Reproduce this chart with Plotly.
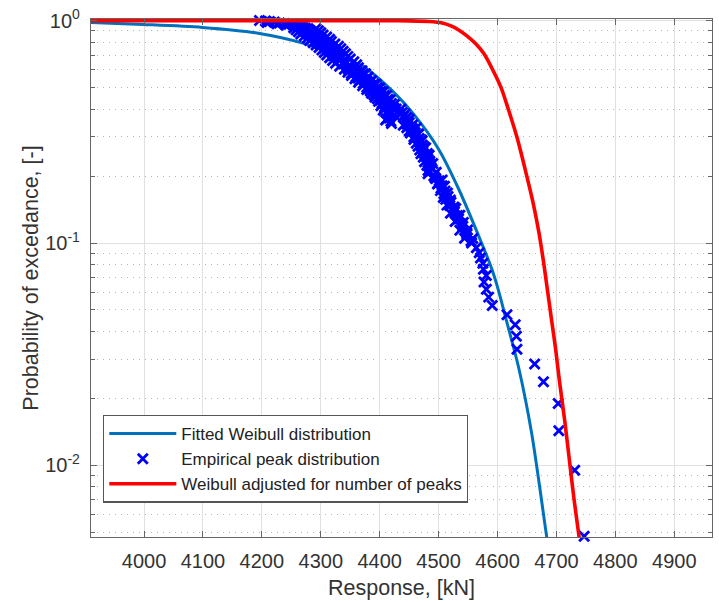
import plotly.graph_objects as go

# Fitted Weibull exceedance curve
fitted_x = [3910, 3998, 4099, 4196, 4268, 4319, 4370, 4421, 4462, 4500, 4534,
            4563, 4590, 4602, 4614, 4636, 4658, 4683, 4688]
fitted_y = [0.9806, 0.9607, 0.9314, 0.8758, 0.7941, 0.7089, 0.6266, 0.4844,
            0.3669, 0.2639, 0.1749, 0.1158, 0.0767, 0.0606, 0.0459, 0.0274,
            0.0139, 0.00486, 0.00396]

# Weibull adjusted for the number of peaks
adjusted_x = [3910, 4433, 4484, 4506, 4521, 4534, 4548, 4563, 4577, 4590, 4606,
              4619, 4633, 4648, 4660, 4670, 4678, 4685, 4692, 4699, 4705, 4714,
              4722, 4730, 4738, 4743]
adjusted_y = [1.0, 1.0, 0.9908, 0.9756, 0.9460, 0.9078, 0.8535, 0.7861, 0.7089,
              0.6139, 0.4996, 0.3943, 0.2986, 0.2084, 0.1530, 0.1123, 0.0825,
              0.0606, 0.0445, 0.0327, 0.0240, 0.0159, 0.01053, 0.00698, 0.00486,
              0.00376]

# Empirical peak distribution (response, exceedance probability)
peak_x = [4196, 4206, 4213, 4221, 4209, 4230, 4238, 4226, 4246, 4253, 4241,
          4260, 4257, 4265, 4270, 4274, 4269, 4277, 4272, 4280, 4286, 4279,
          4289, 4294, 4286, 4297, 4301, 4292, 4304, 4308, 4299, 4311, 4314,
          4306, 4318, 4321, 4314, 4324, 4328, 4321, 4331, 4335, 4330, 4340,
          4343, 4338, 4348, 4352, 4346, 4357, 4360, 4355, 4365, 4369, 4363,
          4375, 4379, 4374, 4384, 4387, 4382, 4394, 4397, 4392, 4402, 4406,
          4401, 4411, 4412, 4409, 4428, 4419, 4434, 4441, 4412, 4419, 4446,
          4453, 4456, 4460, 4463, 4467, 4470, 4472, 4475, 4473, 4479, 4482,
          4484, 4487, 4485, 4492, 4501, 4499, 4506, 4504, 4511, 4509, 4516,
          4512, 4521, 4519, 4529, 4527, 4536, 4534, 4542, 4541, 4549, 4548,
          4558, 4556, 4564, 4569, 4571, 4575, 4576, 4581, 4577, 4581, 4585,
          4591, 4616, 4630, 4632, 4633, 4663, 4678, 4703, 4704, 4731, 4747,
          4254, 4292, 4258, 4296, 4262, 4300, 4266, 4304, 4272, 4310, 4277,
          4315, 4281, 4318, 4287, 4324, 4292, 4330, 4297, 4334, 4302, 4338,
          4306, 4342, 4310, 4346, 4315, 4350, 4320, 4356, 4325, 4361, 4332,
          4364, 4340, 4370, 4346, 4376, 4352, 4380, 4358, 4386, 4364, 4390,
          4371, 4396, 4378, 4402, 4386, 4408, 4392, 4414, 4398, 4420, 4402,
          4424, 4406, 4438, 4425, 4446, 4410, 4450, 4440, 4462, 4450, 4465,
          4458, 4471, 4462, 4475, 4468, 4481, 4474, 4485, 4480, 4489, 4482,
          4495,
          4348, 4368, 4352, 4372, 4360, 4380, 4366, 4386, 4372, 4394, 4378,
          4400, 4384, 4406, 4390, 4412, 4396, 4418, 4404, 4425, 4408, 4436,
          4413, 4443, 4416, 4450, 4420, 4456, 4446, 4456, 4452, 4466, 4458,
          4472, 4465, 4478, 4470, 4484, 4476, 4490, 4482, 4496, 4494, 4506,
          4498, 4510, 4503, 4515, 4508, 4520, 4514, 4526, 4520, 4532, 4528,
          4540, 4536, 4548, 4544, 4555]
peak_y = [1.0, 0.9952, 0.9905, 0.9857, 0.9810, 0.9762, 0.9714, 0.9667, 0.9619,
          0.9571, 0.9524, 0.9476, 0.9429, 0.9381, 0.9333, 0.9238, 0.9143,
          0.9048, 0.8952, 0.8857, 0.8762, 0.8667, 0.8571, 0.8476, 0.8381,
          0.8286, 0.8190, 0.8095, 0.8000, 0.7905, 0.7810, 0.7714, 0.7619,
          0.7524, 0.7429, 0.7333, 0.7238, 0.7143, 0.7048, 0.6952, 0.6857,
          0.6762, 0.6667, 0.6571, 0.6476, 0.6381, 0.6286, 0.6190, 0.6095,
          0.6000, 0.5905, 0.5810, 0.5714, 0.5619, 0.5524, 0.5429, 0.5333,
          0.5238, 0.5143, 0.5048, 0.4952, 0.4857, 0.4762, 0.4667, 0.4571,
          0.4476, 0.4381, 0.4286, 0.4190, 0.4095, 0.4000, 0.3905, 0.3810,
          0.3714, 0.3619, 0.3524, 0.3429, 0.3333, 0.3238, 0.3143, 0.3048,
          0.2952, 0.2857, 0.2762, 0.2667, 0.2571, 0.2476, 0.2381, 0.2286,
          0.2190, 0.2095, 0.2000, 0.1905, 0.1857, 0.1810, 0.1762, 0.1714,
          0.1667, 0.1619, 0.1571, 0.1524, 0.1476, 0.1429, 0.1381, 0.1333,
          0.1286, 0.1238, 0.1190, 0.1143, 0.1095, 0.1048, 0.1000, 0.0952,
          0.0905, 0.0857, 0.0810, 0.0762, 0.0714, 0.0667, 0.0619, 0.0571,
          0.0524, 0.0476, 0.0429, 0.0381, 0.0333, 0.0286, 0.0238, 0.0190,
          0.0143, 0.0095, 0.0048,
          0.9286, 0.9190, 0.9095, 0.9000, 0.8905, 0.8810, 0.8714, 0.8619,
          0.8524, 0.8429, 0.8333, 0.8238, 0.8143, 0.8048, 0.7952, 0.7857,
          0.7762, 0.7667, 0.7571, 0.7476, 0.7381, 0.7286, 0.7190, 0.7095,
          0.7000, 0.6905, 0.6810, 0.6714, 0.6619, 0.6524, 0.6429, 0.6333,
          0.6238, 0.6143, 0.6048, 0.5952, 0.5857, 0.5762, 0.5667, 0.5571,
          0.5476, 0.5381, 0.5286, 0.5190, 0.5095, 0.5000, 0.4905, 0.4810,
          0.4714, 0.4619, 0.4524, 0.4429, 0.4333, 0.4238, 0.4143, 0.4048,
          0.3952, 0.3857, 0.3762, 0.3667, 0.3571, 0.3476, 0.3381, 0.3286,
          0.3190, 0.3095, 0.3000, 0.2905, 0.2810, 0.2714, 0.2619, 0.2524,
          0.2429, 0.2333, 0.2238, 0.2143, 0.2048, 0.1952,
          0.598, 0.594, 0.578, 0.574, 0.559, 0.555, 0.540, 0.536, 0.521,
          0.517, 0.502, 0.498, 0.483, 0.479, 0.464, 0.460, 0.445, 0.441,
          0.425, 0.420, 0.405, 0.400, 0.385, 0.380, 0.365, 0.360, 0.345,
          0.340, 0.330, 0.326, 0.312, 0.308, 0.292, 0.288, 0.272, 0.268,
          0.252, 0.248, 0.232, 0.228, 0.212, 0.208, 0.196, 0.192, 0.184,
          0.180, 0.172, 0.168, 0.160, 0.156, 0.148, 0.145, 0.136, 0.133,
          0.125, 0.122, 0.114, 0.111, 0.105, 0.102]

x_ticks = [4000, 4100, 4200, 4300, 4400, 4500, 4600, 4700, 4800, 4900]
y_ticks = [0.01, 0.1, 1]
y_tick_text = ["10<sup>-2</sup>", "10<sup>-1</sup>", "10<sup>0</sup>"]
y_minor = [0.005, 0.006, 0.007, 0.008, 0.009,
           0.02, 0.03, 0.04, 0.05, 0.06, 0.07, 0.08, 0.09,
           0.2, 0.3, 0.4, 0.5, 0.6, 0.7, 0.8, 0.9]

FONT = "Liberation Sans, Arial, Helvetica, sans-serif"
AXIS = "#666666"
TEXT = "#333333"

fig = go.Figure()
fig.add_trace(go.Scatter(
    x=fitted_x, y=fitted_y, mode="lines", name="Fitted Weibull distribution",
    line=dict(color="#0072BD", width=3, shape="spline", smoothing=0.8)))
fig.add_trace(go.Scatter(
    x=peak_x, y=peak_y, mode="markers", name="Empirical peak distribution",
    marker=dict(symbol="x-thin", size=10, color="#0000FF",
                line=dict(color="#0000FF", width=2.8)),
    cliponaxis=False))
fig.add_trace(go.Scatter(
    x=adjusted_x, y=adjusted_y, mode="lines",
    name="Weibull adjusted for number of peaks",
    line=dict(color="#FF0000", width=3.6, shape="spline", smoothing=0.8)))

fig.update_xaxes(
    range=[3910, 4964], tickvals=x_ticks, ticks="inside", ticklen=6,
    tickcolor=AXIS, showline=True, linecolor=AXIS, linewidth=1.3,
    mirror="allticks", showgrid=True, gridcolor="#e0e0e0", gridwidth=1,
    zeroline=False, tickfont=dict(family=FONT, size=20, color=TEXT),
    ticklabelstandoff=6,
    title=dict(text="Response, [kN]", font=dict(family=FONT, size=21.5, color=TEXT),
               standoff=8))
fig.update_yaxes(
    type="log", range=[-2.322, 0.0072], tickvals=y_ticks, ticktext=y_tick_text,
    ticks="inside", ticklen=6, tickcolor=AXIS, showline=True, linecolor=AXIS,
    linewidth=1.3, mirror="allticks", showgrid=True, gridcolor="#e0e0e0",
    gridwidth=1, zeroline=False,
    tickfont=dict(family=FONT, size=20, color=TEXT), ticklabelstandoff=6,
    minor=dict(tickvals=y_minor, ticks="inside", ticklen=4, tickcolor=AXIS,
               showgrid=True, griddash="1px,5px", gridcolor="#b4b4b4",
               gridwidth=1),
    title=dict(text="Probability of excedance, [-]",
               font=dict(family=FONT, size=21.5, color=TEXT), standoff=0))

fig.update_layout(
    width=719, height=602, autosize=False,
    margin=dict(l=91, r=6, t=16, b=65),
    paper_bgcolor="white", plot_bgcolor="white",
    showlegend=True,
    legend=dict(x=0.0193, y=0.236, xanchor="left", yanchor="top",
                bgcolor="white", bordercolor="#555555", borderwidth=1.3,
                font=dict(family=FONT, size=17, color="#222222"),
                itemwidth=67, tracegroupgap=0),
)

fig.write_html("out.html")
